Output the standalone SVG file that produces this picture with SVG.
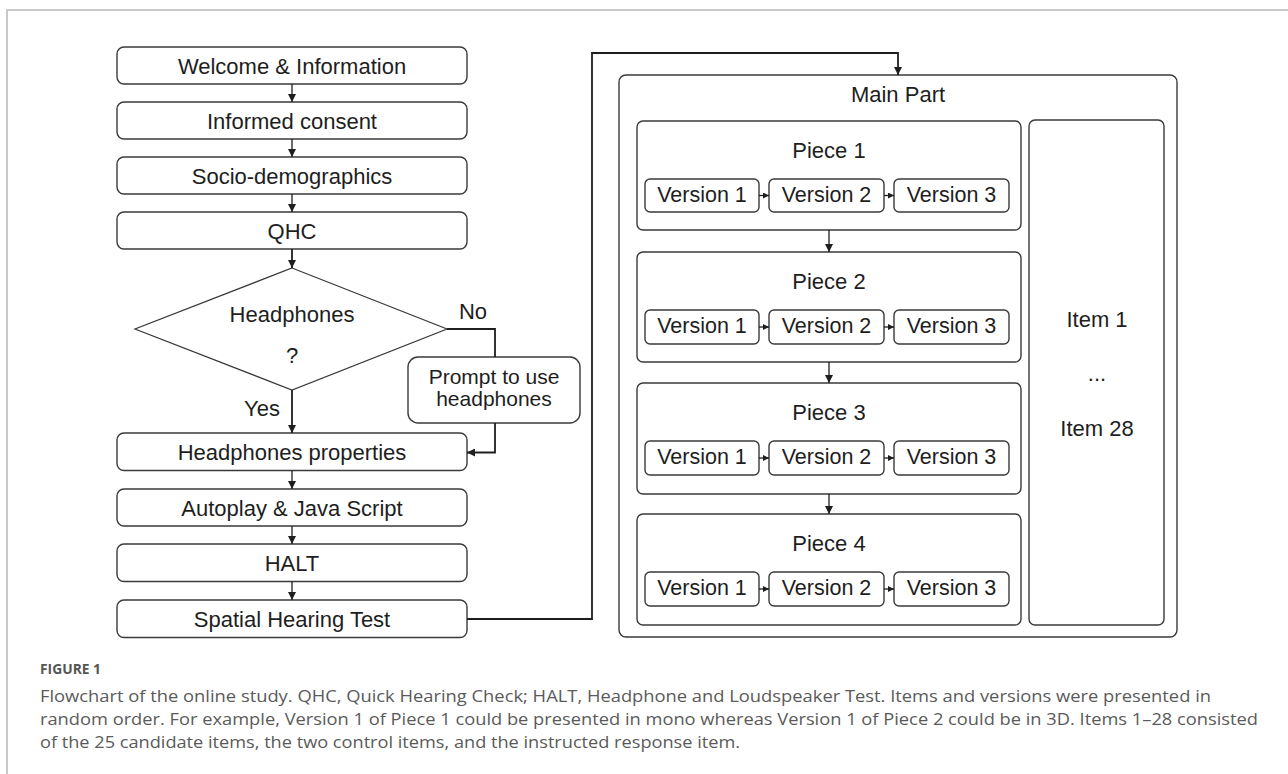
<svg xmlns="http://www.w3.org/2000/svg" width="1288" height="774" viewBox="0 0 1288 774">
<style>
.box{fill:#fff;stroke:#3a3a3a;stroke-width:1.4}
.t{font-family:"Liberation Sans",Arial,sans-serif;font-size:22px;fill:#1e1e1e;text-anchor:middle}
.tv{font-family:"Liberation Sans",Arial,sans-serif;font-size:21.5px;fill:#1e1e1e;text-anchor:middle}
.tp{font-family:"Liberation Sans",Arial,sans-serif;font-size:21px;fill:#1e1e1e;text-anchor:middle}
.c{fill:none;stroke:#1e1e1e;stroke-width:1.8}
.cs{fill:none;stroke:#1e1e1e;stroke-width:1.3}
.cap{font-family:"Open Sans","Liberation Sans",sans-serif;font-size:16.5px;fill:#5a5a5a}
</style>
<defs>
<marker id="ah" viewBox="0 0 10 10" refX="10" refY="5" markerWidth="8" markerHeight="8" markerUnits="userSpaceOnUse" orient="auto">
<path d="M0,0 L10,5 L0,10 Z" fill="#1e1e1e"/>
</marker>
<marker id="ahs" viewBox="0 0 10 10" refX="10" refY="5" markerWidth="6" markerHeight="6" markerUnits="userSpaceOnUse" orient="auto">
<path d="M0,0 L10,5 L0,10 Z" fill="#1e1e1e"/>
</marker>
</defs>
<rect width="1288" height="774" fill="#fff"/>
<path d="M7,774 V10 H1288" fill="none" stroke="#b8b8b8" stroke-width="1.5"/>

<g id="welcome"><rect class="box" x="117" y="47" width="350" height="37" rx="7"/><text class="t" x="292" y="73.5">Welcome &amp; Information</text></g>
<g id="consent"><rect class="box" x="117" y="102" width="350" height="37" rx="7"/><text class="t" x="292" y="128.5">Informed consent</text></g>
<g id="socio"><rect class="box" x="117" y="157" width="350" height="37" rx="7"/><text class="t" x="292" y="183.5">Socio-demographics</text></g>
<g id="qhc"><rect class="box" x="117" y="212" width="350" height="37" rx="7"/><text class="t" x="292" y="238.5">QHC</text></g>
<g id="headphones-q"><polygon points="292,268 447,329 292,390 135,329" fill="#fff" stroke="#3a3a3a" stroke-width="1.2"/><text class="t" x="292" y="322">Headphones</text><text class="t" x="292" y="363">?</text></g>
<g id="prompt"><rect class="box" x="408" y="357" width="172" height="66" rx="10"/><text class="tp" x="494" y="383.5">Prompt to use</text><text class="tp" x="494" y="406">headphones</text></g>
<g id="hp-props"><rect class="box" x="117" y="433" width="350" height="37.5" rx="7"/><text class="t" x="292" y="460">Headphones properties</text></g>
<g id="autoplay"><rect class="box" x="117" y="489" width="350" height="37" rx="7"/><text class="t" x="292" y="515.5">Autoplay &amp; Java Script</text></g>
<g id="halt"><rect class="box" x="117" y="544" width="350" height="37.5" rx="7"/><text class="t" x="292" y="571">HALT</text></g>
<g id="spatial"><rect class="box" x="117" y="600" width="350" height="37.5" rx="7"/><text class="t" x="292" y="627">Spatial Hearing Test</text></g>

<g id="main-part"><rect class="box" x="619" y="75" width="558" height="562" rx="7"/><text class="t" x="898" y="102">Main Part</text></g>

<g id="piece1"><rect class="box" x="637" y="121" width="384" height="109" rx="6"/><text class="t" x="829" y="158">Piece 1</text>
<rect class="box" x="645" y="179" width="114" height="33" rx="5"/><text class="tv" x="702" y="202">Version 1</text>
<rect class="box" x="769" y="179" width="115" height="33" rx="5"/><text class="tv" x="826.5" y="202">Version 2</text>
<rect class="box" x="894" y="179" width="115" height="33" rx="5"/><text class="tv" x="951.5" y="202">Version 3</text></g>
<g id="piece2"><rect class="box" x="637" y="252" width="384" height="110" rx="6"/><text class="t" x="829" y="289">Piece 2</text>
<rect class="box" x="645" y="310" width="114" height="34" rx="5"/><text class="tv" x="702" y="333">Version 1</text>
<rect class="box" x="769" y="310" width="115" height="34" rx="5"/><text class="tv" x="826.5" y="333">Version 2</text>
<rect class="box" x="894" y="310" width="115" height="34" rx="5"/><text class="tv" x="951.5" y="333">Version 3</text></g>
<g id="piece3"><rect class="box" x="637" y="383" width="384" height="111" rx="6"/><text class="t" x="829" y="420">Piece 3</text>
<rect class="box" x="645" y="441" width="114" height="34" rx="5"/><text class="tv" x="702" y="464">Version 1</text>
<rect class="box" x="769" y="441" width="115" height="34" rx="5"/><text class="tv" x="826.5" y="464">Version 2</text>
<rect class="box" x="894" y="441" width="115" height="34" rx="5"/><text class="tv" x="951.5" y="464">Version 3</text></g>
<g id="piece4"><rect class="box" x="637" y="514" width="384" height="111" rx="6"/><text class="t" x="829" y="551">Piece 4</text>
<rect class="box" x="645" y="572" width="114" height="34" rx="5"/><text class="tv" x="702" y="595">Version 1</text>
<rect class="box" x="769" y="572" width="115" height="34" rx="5"/><text class="tv" x="826.5" y="595">Version 2</text>
<rect class="box" x="894" y="572" width="115" height="34" rx="5"/><text class="tv" x="951.5" y="595">Version 3</text></g>
<g id="items"><rect class="box" x="1029" y="120" width="135" height="505" rx="6"/><text class="t" x="1097" y="327">Item 1</text><text class="t" x="1097" y="381">...</text><text class="t" x="1097" y="436">Item 28</text></g>

<g id="connectors">
<path class="cs" d="M292,84 V102" marker-end="url(#ah)"/>
<path class="cs" d="M292,139 V157" marker-end="url(#ah)"/>
<path class="cs" d="M292,194 V212" marker-end="url(#ah)"/>
<path class="c" d="M292,249 V268" marker-end="url(#ah)"/>
<path class="c" d="M292,390 V433" marker-end="url(#ah)"/>
<path class="c" d="M447,329 H495 V357"/>
<path class="c" d="M495,423 V452.5 H467" marker-end="url(#ah)"/>
<path class="cs" d="M292,470.5 V489" marker-end="url(#ah)"/>
<path class="cs" d="M292,526 V544" marker-end="url(#ah)"/>
<path class="cs" d="M292,581.5 V600" marker-end="url(#ah)"/>
<path class="c" d="M467,619 H592 V53 H898 V75" stroke-width="2.4" marker-end="url(#ah)"/>
<path class="cs" d="M829,230 V252" marker-end="url(#ah)"/>
<path class="cs" d="M829,362 V383" marker-end="url(#ah)"/>
<path class="cs" d="M829,494 V514" marker-end="url(#ah)"/>
<path class="cs" d="M759,195.5 H769" marker-end="url(#ahs)"/>
<path class="cs" d="M884,195.5 H894" marker-end="url(#ahs)"/>
<path class="cs" d="M759,327 H769" marker-end="url(#ahs)"/>
<path class="cs" d="M884,327 H894" marker-end="url(#ahs)"/>
<path class="cs" d="M759,458 H769" marker-end="url(#ahs)"/>
<path class="cs" d="M884,458 H894" marker-end="url(#ahs)"/>
<path class="cs" d="M759,589 H769" marker-end="url(#ahs)"/>
<path class="cs" d="M884,589 H894" marker-end="url(#ahs)"/>
</g>
<text class="t" x="473" y="319">No</text>
<text class="t" x="262" y="416">Yes</text>

<g id="caption">
<text x="40" y="674" font-family="'Open Sans','Liberation Sans',sans-serif" font-size="14" font-weight="700" fill="#555" textLength="61" lengthAdjust="spacingAndGlyphs">FIGURE 1</text>
<text class="cap" x="40" y="702" textLength="1171" lengthAdjust="spacingAndGlyphs">Flowchart of the online study. QHC, Quick Hearing Check; HALT, Headphone and Loudspeaker Test. Items and versions were presented in</text>
<text class="cap" x="40" y="725" textLength="1218" lengthAdjust="spacingAndGlyphs">random order. For example, Version 1 of Piece 1 could be presented in mono whereas Version 1 of Piece 2 could be in 3D. Items 1–28 consisted</text>
<text class="cap" x="40" y="748" textLength="700" lengthAdjust="spacingAndGlyphs">of the 25 candidate items, the two control items, and the instructed response item.</text>
</g>
</svg>
